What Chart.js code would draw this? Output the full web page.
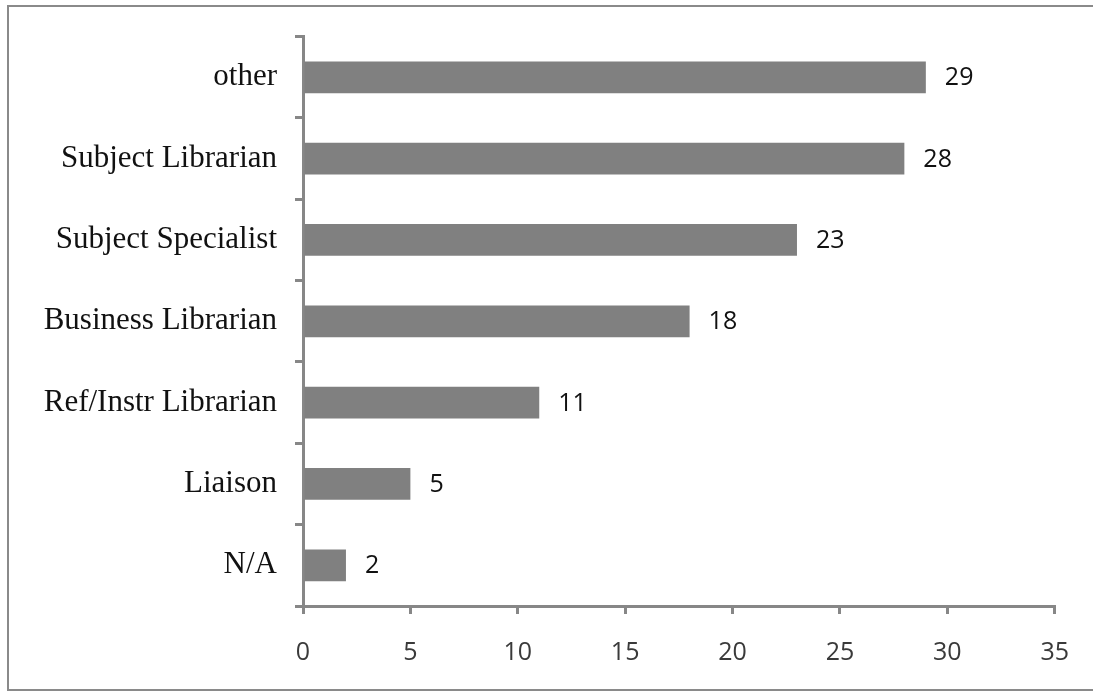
<!DOCTYPE html>
<html>
<head>
<meta charset="utf-8">
<script src="https://cdn.jsdelivr.net/npm/chart.js@4"></script>
<style>
  html, body { margin: 0; padding: 0; background: #fff; overflow: hidden; }
  #wrap { position: relative; width: 1093px; height: 692px; overflow: hidden; }
  #frame { position: absolute; left: 7px; top: 5px; width: 1200px; height: 686px; border: 2px solid #8a8a8a; border-right: none; box-sizing: border-box; }
  canvas { position: absolute; left: 0; top: 0; }
</style>
</head>
<body>
<div id="wrap">
  <div id="frame"></div>
  <canvas id="myChart" width="1093" height="692"></canvas>
</div>
<script>
var categories = ["other", "Subject Librarian", "Subject Specialist", "Business Librarian", "Ref/Instr Librarian", "Liaison", "N/A"];
var counts = [29, 28, 23, 18, 11, 5, 2];
var x_ticks = [0, 5, 10, 15, 20, 25, 30, 35];

var axis_gray = '#878787';

// value labels to the right of each bar
var value_labels = {
    id: 'value_labels',
    afterDatasetsDraw: function (chart) {
        var ctx = chart.ctx;
        var meta = chart.getDatasetMeta(0);
        ctx.save();
        ctx.font = '25px "Open Sans"';
        ctx.fillStyle = '#111';
        ctx.textAlign = 'left';
        ctx.textBaseline = 'middle';
        meta.data.forEach(function (bar, i) {
            ctx.fillText(counts[i].toString(), bar.x + 19, bar.y + 1);
        });
        ctx.restore();
    }
};

var ctx = document.getElementById('myChart');
var chart = new Chart(ctx, {
    type: 'bar',
    data: {
        labels: categories,
        datasets: [
            {
                label: 'count',
                data: counts,
                backgroundColor: '#808080',
                borderWidth: 0,
                categoryPercentage: 1,
                barPercentage: 0.39
            }
        ]
    },
    options: {
        indexAxis: 'y',
        responsive: false,
        animation: false,
        layout: { padding: { left: 0, right: 38, top: 33, bottom: 0 } },
        scales: {
            x: {
                min: 0,
                max: 35,
                afterBuildTicks: function (scale) {
                    scale.ticks = x_ticks.map(function (v) { return { value: v }; });
                },
                afterFit: function (scale) { scale.height = 86; },
                border: { display: true, color: axis_gray, width: 3 },
                grid: { drawOnChartArea: false, drawTicks: true, tickLength: 8, color: axis_gray, lineWidth: 3 },
                ticks: {
                    padding: 24,
                    color: '#3a3a3a',
                    font: { family: 'Open Sans', size: 25 },
                    maxRotation: 0
                }
            },
            y: {
                afterFit: function (scale) { scale.width = 303; },
                border: { display: true, color: axis_gray, width: 3 },
                grid: { offset: true, drawOnChartArea: false, drawTicks: true, tickLength: 8, color: axis_gray, lineWidth: 3 },
                ticks: {
                    padding: 18,
                    color: '#111',
                    font: { family: 'Liberation Serif', size: 31 }
                }
            }
        },
        plugins: {
            legend: { display: false },
            tooltip: { enabled: false },
            title: { display: false }
        }
    },
    plugins: [value_labels]
});
</script>
</body>
</html>
